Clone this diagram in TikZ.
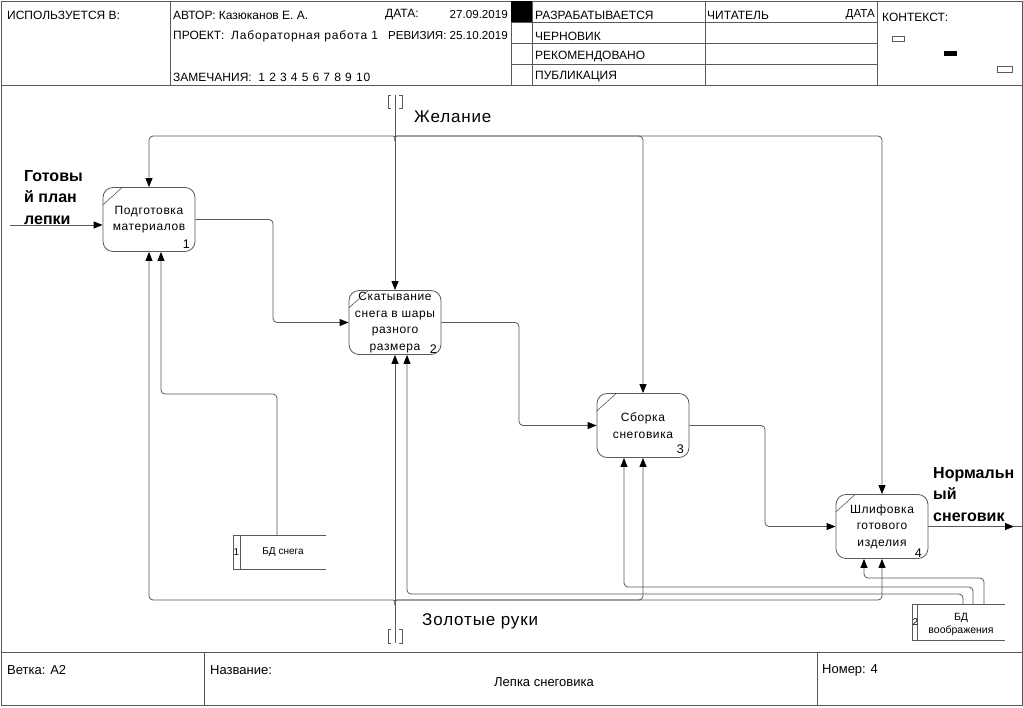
\documentclass[tikz,border=0pt]{standalone}
\usepackage{fontspec}
\setmainfont{Liberation Sans}
\newfontfamily\spfont[LetterSpace=5]{Liberation Sans}
\newfontfamily\hspfont[LetterSpace=7]{Liberation Sans}
\newfontfamily\lspfont[LetterSpace=5]{Liberation Sans}
\usetikzlibrary{arrows.meta,calc}
\definecolor{lg}{HTML}{5A5A5A}
\begin{document}
\begin{tikzpicture}[x=1pt,y=-1pt,
  ln/.style={draw=lg,line width=0.8pt},
  arr/.style={ln,-{Triangle[length=9pt,width=7pt,color=black]}},
  conn/.style={arr,rounded corners=4pt},
  proc/.style={draw=lg,line width=0.8pt,rounded corners=10pt,minimum width=92pt,minimum height=64pt,align=center,inner sep=0pt,font=\spfont\fontsize{12}{16.5}\selectfont},
  num/.style={inner sep=0pt,font=\fontsize{12.5}{14}\selectfont},
  hdr/.style={anchor=west,inner sep=0pt,font=\fontsize{12}{13}\selectfont},
  hdre/.style={anchor=east,inner sep=0pt,font=\fontsize{11.6}{13}\selectfont},
  ftr/.style={anchor=west,inner sep=0pt,font=\fontsize{13}{14}\selectfont},
  lbl/.style={anchor=west,inner sep=0pt,font=\lspfont\fontsize{17}{20}\selectfont},
  blbl/.style={anchor=north west,inner sep=0pt,align=left,font=\bfseries\fontsize{16}{21.5}\selectfont},
  store/.style={inner sep=0pt,minimum width=92pt},
  dstext/.style={inner sep=0pt,align=center,font=\fontsize{10}{13}\selectfont}
]
\useasboundingbox (0,0) rectangle (1023,707);
\fill[white] (0,0) rectangle (1023,707);

% ---------- frame ----------
\draw[ln] (1,1) rectangle (1022,705);
\draw[ln] (1,85) -- (1022,85);
\draw[ln] (170,1) -- (170,85);
\draw[ln] (511,1) -- (511,85);
\draw[ln] (532,1) -- (532,85);
\draw[ln] (705,1) -- (705,85);
\draw[ln] (877,1) -- (877,85);
\draw[ln] (511,22) -- (877,22);
\draw[ln] (511,43) -- (877,43);
\draw[ln] (511,64) -- (877,64);
\fill[black] (511,1) rectangle (532,22);
\draw[ln] (1,652) -- (1022,652);
\draw[ln] (204,652) -- (204,705);
\draw[ln] (817,652) -- (817,705);

% ---------- header texts ----------
\node[hdr] (used) at (7,15) {ИСПОЛЬЗУЕТСЯ В:};
\node[hdr] (author) at (173,15) {АВТОР: Казюканов Е. А.};
\node[hdr] (datel) at (385,15) {ДАТА:};
\node[hdre] (datev) at (508,15) {27.09.2019};
\node[hdr] (proj) at (173,36) {ПРОЕКТ:\ \ {\hspfont Лабораторная работа 1}};
\node[hdre] (rev) at (508,36) {РЕВИЗИЯ: 25.10.2019};
\node[hdr] (notes) at (173,77) {ЗАМЕЧАНИЯ:\ \ {\hspfont 1 2 3 4 5 6 7 8 9 10}};
\node[hdr] (s1) at (535,15) {РАЗРАБАТЫВАЕТСЯ};
\node[hdr] (s2) at (535,36) {ЧЕРНОВИК};
\node[hdr] (s3) at (535,57) {РЕКОМЕНДОВАНО};
\node[hdr] (s4) at (535,77) {ПУБЛИКАЦИЯ};
\node[hdr] (reader) at (707,15) {ЧИТАТЕЛЬ};
\node[hdre] (rdate) at (875,15) {ДАТА};
\node[hdr] (ctx) at (882,17) {КОНТЕКСТ:};
\draw[ln,line width=0.6pt] (892,36) rectangle (904,41);
\fill[black] (944,51) rectangle (957,56);
\draw[ln,line width=0.6pt] (997,66) rectangle (1012,72);

% ---------- footer texts ----------
\node[ftr] (branch) at (7,670) {Ветка: А2};
\node[ftr] (tname) at (210,670) {Название:};
\node[inner sep=0pt,font=\fontsize{13}{15}\selectfont] (title) at (544,682) {Лепка снеговика};
\node[ftr] (numb) at (822,670) {Номер: 4};

% ---------- activity boxes ----------
\node[proc] (b1) at (149,219.5) {Подготовка\\материалов};
\node[proc] (b2) at (395,322.5) {Скатывание\\снега в шары\\разного\\размера};
\node[proc] (b3) at (643,425.5) {Сборка\\снеговика};
\node[proc] (b4) at (882,526.5) {Шлифовка\\готового\\изделия};
\foreach \b in {b1,b2,b3,b4}{
  \draw[ln,line width=0.6pt] ([yshift=-18pt]\b.north west) -- ([xshift=20pt]\b.north west);
}
\node[num] (n1) at ([xshift=-9pt,yshift=7.5pt]b1.south east) {1};
\node[num] (n2) at ([xshift=-8pt,yshift=5.5pt]b2.south east) {2};
\node[num] (n3) at ([xshift=-9pt,yshift=9pt]b3.south east) {3};
\node[num] (n4) at ([xshift=-10pt,yshift=6pt]b4.south east) {4};

% ---------- data stores ----------
\node[store,minimum height=33pt] (ds1) at (279.5,552.5) {};
\draw[ln] (ds1.north east) -- (ds1.north west) -- (ds1.south west) -- (ds1.south east);
\draw[ln] ([xshift=7pt]ds1.north west) -- ([xshift=7pt]ds1.south west);
\node[dstext] (ds1n) at (236.5,552.5) {1};
\node[dstext] (ds1t) at (283,552.5) {БД снега};

\node[store,minimum height=35pt] (ds2) at (959,622.5) {};
\draw[ln] (ds2.north east) -- (ds2.north west) -- (ds2.south west) -- (ds2.south east);
\draw[ln] ([xshift=5pt]ds2.north west) -- ([xshift=5pt]ds2.south west);
\node[dstext] (ds2n) at (915.5,622.5) {2};
\node[dstext,font=\fontsize{10.5}{13}\selectfont] (ds2t) at (961,624) {БД\\воображения};

% ---------- tunnels ----------
\draw[ln,line width=0.6pt] (391,95) -- (388,95) -- (388,108) -- (391,108);
\draw[ln,line width=0.6pt] (399,95) -- (402,95) -- (402,108) -- (399,108);
\draw[ln,line width=0.6pt] (391,629) -- (388,629) -- (388,643) -- (391,643);
\draw[ln,line width=0.6pt] (399,629) -- (402,629) -- (402,643) -- (399,643);
\coordinate (tt) at (395,95);
\coordinate (jt) at (395,141);
\coordinate (tb) at (395,643);
\coordinate (jb) at (395,605);

% ---------- controls: Желание ----------
\draw[arr] (tt) -- (b2.north);
\draw[conn] (jt) .. controls (395,136) .. (389,136) -- (149,136) -- (b1.north);
\draw[conn] (jt) .. controls (395,136) .. (401,136) -- (643,136) -- (b3.north);
\draw[conn] (jt) .. controls (395,136) .. (401,136) -- (882,136) -- (b4.north);
\node[lbl] (ctl) at (414,117) {Желание};

% ---------- mechanisms: Золотые руки ----------
\draw[arr] (tb) -- (b2.south);
\draw[conn] (jb) .. controls (395,600) .. (389,600) -- (149,600) -- (b1.south);
\draw[conn] (jb) .. controls (395,600) .. (401,600) -- (643,600) -- (b3.south);
\draw[conn] (jb) .. controls (395,600) .. (401,600) -- (882,600) -- (b4.south);
\node[lbl] (mech) at (422,621) {Золотые руки};

% ---------- mechanisms: data stores ----------
\draw[conn] ([xshift=-2.5pt]ds1.north) -- (277,394) -- (161,394) -- ([xshift=12pt]b1.south);
\draw[conn] ([xshift=4pt]ds2.north) -- (963,594) -- (407,594) -- ([xshift=12pt]b2.south);
\draw[conn] ([xshift=14pt]ds2.north) -- (973,587) -- (624,587) -- ([xshift=-19pt]b3.south);
\draw[conn] ([xshift=25pt]ds2.north) -- (984,578) -- (864,578) -- ([xshift=-18pt]b4.south);

% ---------- input / flows / output ----------
\coordinate (inp) at (10,225);
\draw[arr] (inp) -- ([yshift=-5.5pt]b1.west);
\node[blbl] (inlbl) at (24,170) {Готовы\\й план\\лепки};
\draw[conn] (b1.east) -- (273,219.5) -- (273,322.5) -- (b2.west);
\draw[conn] (b2.east) -- (519,322.5) -- (519,425.5) -- (b3.west);
\draw[conn] (b3.east) -- (765,425.5) -- (765,526.5) -- (b4.west);
\coordinate (outp) at (1014,526.5);
\draw[arr] (b4.east) -- (outp);
\draw[ln] (outp) -- (1022,526.5);
\node[blbl] (outlbl) at (933,467) {Нормальн\\ый\\снеговик};
\end{tikzpicture}
\end{document}
